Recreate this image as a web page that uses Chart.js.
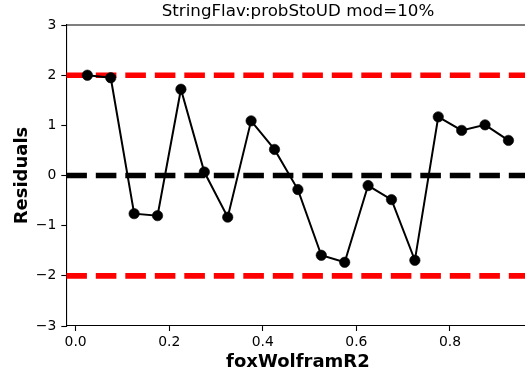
<!DOCTYPE html>
<html>
<head>
<meta charset="utf-8">
<script src="https://cdn.jsdelivr.net/npm/chart.js@4/dist/chart.umd.min.js"></script>
<style>
html,body{margin:0;padding:0;overflow:hidden;background:#fff;width:525px;height:376px;}
#wrap{position:absolute;left:0;top:0;width:596px;height:376px;}
</style>
</head>
<body>
<div id="wrap"><canvas id="c" width="596" height="376"></canvas></div>
<script>
// ---- data ----
const xValues = [0.025,0.075,0.125,0.175,0.225,0.275,0.325,0.375,0.425,0.475,0.525,0.575,0.625,0.675,0.725,0.775,0.825,0.875,0.925];
const residuals = [2.00,1.95,-0.76,-0.80,1.72,0.07,-0.83,1.09,0.52,-0.28,-1.59,-1.73,-0.20,-0.48,-1.69,1.17,0.90,1.01,0.70];
const refLevels = [2, 0, -2];
const refColors = ['#ff0000', '#000000', '#ff0000'];
const xLimits = [-0.02, 0.97];
const yLimits = [-3, 3];
const xTicks = [0.0, 0.2, 0.4, 0.6, 0.8];
const yTicks = [-3, -2, -1, 0, 1, 2, 3];
const titleText = 'StringFlav:probStoUD mod=10%';
const xLabel = 'foxWolframR2';
const yLabel = 'Residuals';

const FONT = "'DejaVu Sans', sans-serif";

const datasets = [{
  data: xValues.map((x, i) => ({x: x, y: residuals[i]})),
  showLine: true,
  borderColor: '#000',
  borderWidth: 2,
  backgroundColor: '#000',
  pointRadius: 5.2,
  pointBorderWidth: 0.6,
  pointBorderColor: '#000',
  pointBackgroundColor: '#000',
  pointHoverRadius: 5.2
}];
refLevels.forEach((lv, i) => {
  datasets.push({
    data: xLimits.map(x => ({x: x, y: lv})),
    showLine: true,
    borderColor: refColors[i],
    borderWidth: 5.6,
    borderDash: [20.6, 8.9],
    borderCapStyle: 'butt',
    pointRadius: 0,
    pointHoverRadius: 0
  });
});

const spines = {
  id: 'spines',
  afterDraw(chart) {
    const {ctx, chartArea: a} = chart;
    ctx.save();
    ctx.strokeStyle = '#000';
    ctx.lineWidth = 1.1;
    ctx.beginPath();
    ctx.moveTo(a.left, a.top);
    ctx.lineTo(a.right, a.top);
    ctx.lineTo(a.right, a.bottom);
    ctx.stroke();
    ctx.restore();
  }
};

const fmt = v => {
  const s = (Math.abs(v) < 1e-9 ? 0 : v);
  return (s < 0 ? '\u2212' : '') + Math.abs(s);
};

new Chart(document.getElementById('c'), {
  type: 'scatter',
  data: {datasets},
  plugins: [spines],
  options: {
    responsive: false,
    animation: false,
    devicePixelRatio: 1,
    layout: {padding: 0},
    plugins: {
      legend: {display: false},
      tooltip: {enabled: false},
      title: {
        display: true,
        text: titleText,
        color: '#000',
        font: {family: FONT, size: 16.7, weight: 'normal', lineHeight: 1.2},
        padding: {top: 2, bottom: 3}
      }
    },
    scales: {
      x: {
        type: 'linear',
        min: xLimits[0], max: xLimits[1],
        afterFit: s => { s.height = 50; },
        afterBuildTicks: s => { s.ticks = xTicks.map(v => ({value: v})); },
        ticks: {
          color: '#000',
          font: {family: FONT, size: 13.9},
          padding: 3,
          maxRotation: 0,
          callback: v => v.toFixed(1)
        },
        grid: {drawOnChartArea: false, drawTicks: true, tickLength: 5, tickWidth: 1.1, tickColor: '#000', color: '#000'},
        border: {display: true, color: '#000', width: 1.1},
        title: {
          display: true, text: xLabel, color: '#000',
          font: {family: FONT, size: 18, weight: 'bold', lineHeight: 1.2},
          padding: {top: 3, bottom: 3}
        }
      },
      y: {
        type: 'linear',
        position: 'left',
        min: yLimits[0], max: yLimits[1],
        afterFit: s => { s.width = 66.3; },
        afterBuildTicks: s => { s.ticks = yTicks.map(v => ({value: v})); },
        ticks: {
          color: '#000',
          font: {family: FONT, size: 13.9},
          padding: 5,
          callback: v => fmt(v)
        },
        grid: {drawOnChartArea: false, drawTicks: true, tickLength: 5, tickWidth: 1.1, tickColor: '#000', color: '#000'},
        border: {display: true, color: '#000', width: 1.1},
        title: {
          display: true, text: yLabel, color: '#000',
          font: {family: FONT, size: 18, weight: 'bold', lineHeight: 1.2},
          padding: {top: 12, bottom: 0}
        }
      },
      yRight: {
        type: 'linear',
        position: 'right',
        display: true,
        min: yLimits[0], max: yLimits[1],
        afterFit: s => { s.width = 66.5; },
        ticks: {display: false},
        grid: {display: false},
        border: {display: false}
      }
    }
  }
});
</script>
</body>
</html>
